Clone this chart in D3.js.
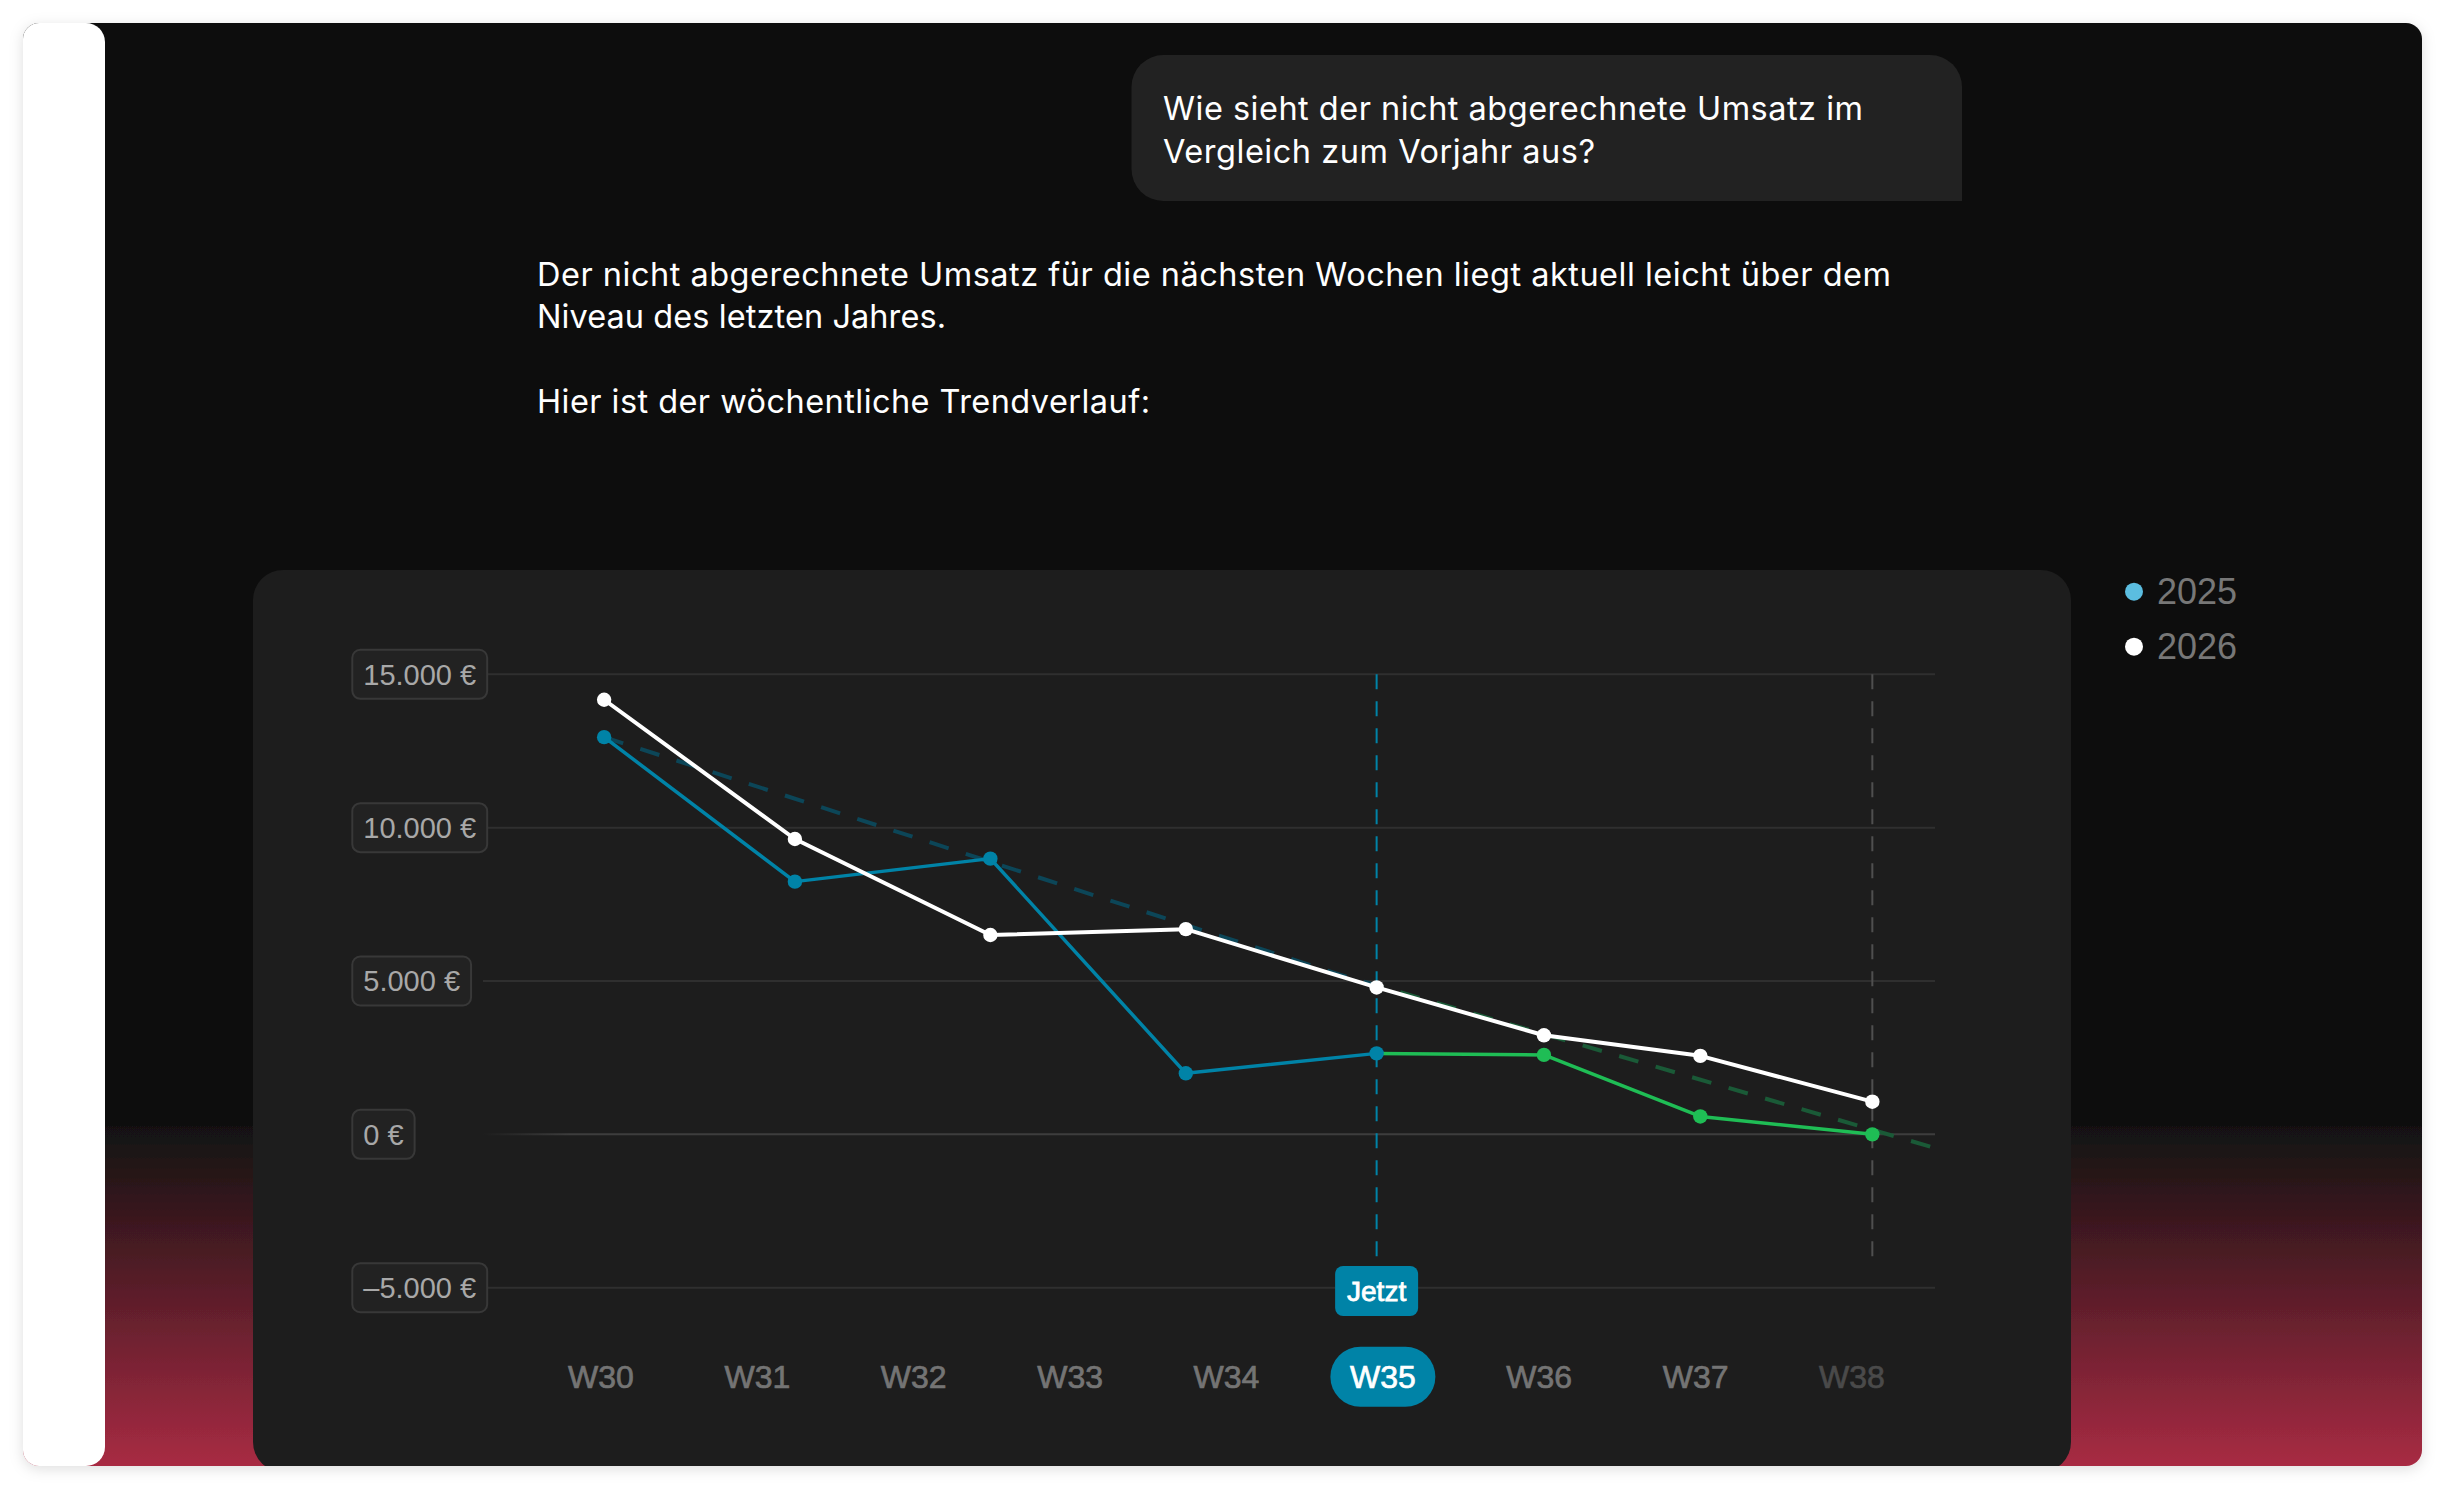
<!DOCTYPE html>
<html><head><meta charset="utf-8">
<script src="https://cdn.jsdelivr.net/npm/d3@7"></script>
<style>html,body{margin:0;padding:0;background:#ffffff;overflow:hidden}</style>
</head><body>
<svg id="c" width="2447" height="1490"></svg>
<script>
// ---------- DATA ----------
const weeks = ["W30","W31","W32","W33","W34","W35","W36","W37","W38"];
const weekNums = [30,31,32,33,34,35,36,37,38];
const currentWeek = "W35";
const fadedWeek = "W38";
// x position (in week units) of each plotted point
const pointWeeks = [30.02, 31.24, 32.49, 33.74, 34.96, 36.03, 37.03, 38.13];
const values2026 = [14170, 9630, 6500, 6690, 4790, 3230, 2560, 1065];
const values2025Actual = [12950, 8240, 8990, 1990, 2640];          // points 0..4
const values2025Forecast = [2640, 2590, 584, 0];                     // points 4..7
const trendWeeks = [30.02, 34.73, 38.5];
const trendValues = [12950, 5200, -400];
const yTicks = [15000, 10000, 5000, 0, -5000];
const legendLabels = ["2025", "2026"];
const legendColors = ["#5bbde0", "#ffffff"];
const questionLines = ["Wie sieht der nicht abgerechnete Umsatz im", "Vergleich zum Vorjahr aus?"];
const answerLines = ["Der nicht abgerechnete Umsatz für die nächsten Wochen liegt aktuell leicht über dem", "Niveau des letzten Jahres.", "", "Hier ist der wöchentliche Trendverlauf:"];
const nowLabel = "Jetzt";

// ---------- SETUP ----------
const svg = d3.select("#c");
const defs = svg.append("defs");
const BLUE = "#0083a7", GREEN = "#1fbd55";

const sh = defs.append("filter").attr("id","shadow").attr("x","-3%").attr("y","-3%").attr("width","106%").attr("height","106%");
sh.append("feDropShadow").attr("dx",0).attr("dy",3).attr("stdDeviation",7).attr("flood-color","#000").attr("flood-opacity",0.13);

const bg = defs.append("linearGradient").attr("id","bgGrad").attr("gradientUnits","userSpaceOnUse")
  .attr("x1",0).attr("y1",1125).attr("x2",0).attr("y2",1466);
bg.append("stop").attr("offset",0).attr("stop-color","#111111");
bg.append("stop").attr("offset",1).attr("stop-color","#a82b43");

const zg = defs.append("linearGradient").attr("id","zeroGrad").attr("gradientUnits","userSpaceOnUse")
  .attr("x1",483).attr("y1",0).attr("x2",570).attr("y2",0);
zg.append("stop").attr("offset",0).attr("stop-color","#3d3d3d").attr("stop-opacity",0);
zg.append("stop").attr("offset",1).attr("stop-color","#3d3d3d").attr("stop-opacity",1);

const frame = {x:23, y:23, w:2399, h:1443};
defs.append("clipPath").attr("id","frameClip").append("rect")
  .attr("x",frame.x).attr("y",frame.y).attr("width",frame.w).attr("height",frame.h).attr("rx",16);

svg.append("rect").attr("x",frame.x).attr("y",frame.y).attr("width",frame.w).attr("height",frame.h)
  .attr("rx",16).attr("fill","url(#bgGrad)").attr("filter","url(#shadow)");

const inner = svg.append("g").attr("clip-path","url(#frameClip)");
// white side panel with rounded right corners
(function(){
  const x0=frame.x-5, x1=105, y0=frame.y, y1=frame.y+frame.h, r=19;
  const p = d3.path();
  p.moveTo(x0,y0); p.lineTo(x1-r,y0); p.arcTo(x1,y0,x1,y0+r,r); p.lineTo(x1,y1-r);
  p.arcTo(x1,y1,x1-r,y1,r); p.lineTo(x0,y1); p.closePath();
  inner.append("path").attr("d",p.toString()).attr("fill","#ffffff");
})();

// question bubble (bottom-right corner square)
(function(){
  const x0=1131.5, x1=1962, y0=55, y1=201, r=32;
  const p = d3.path();
  p.moveTo(x0+r,y0); p.lineTo(x1-r,y0); p.arcTo(x1,y0,x1,y0+r,r); p.lineTo(x1,y1);
  p.lineTo(x0+r,y1); p.arcTo(x0,y1,x0,y1-r,r); p.lineTo(x0,y0+r); p.arcTo(x0,y0,x0+r,y0,r); p.closePath();
  inner.append("path").attr("d",p.toString()).attr("fill","#222222");
})();

const textFont = "Inter, 'Noto Sans', sans-serif";
const qWidths = [700, 432];
questionLines.forEach((t,i)=>{
  inner.append("text").attr("x",1163).attr("y",120 + i*43.3).text(t)
    .attr("font-family",textFont).attr("font-size",32.5).attr("fill","#ffffff")
    .attr("textLength",qWidths[i]).attr("lengthAdjust","spacing");
});
const aWidths = [1354, 409, 0, 613];
answerLines.forEach((t,i)=>{
  if(!t) return;
  inner.append("text").attr("x",537).attr("y",285.7 + i*42.4).text(t)
    .attr("font-family",textFont).attr("font-size",32.5).attr("fill","#ffffff")
    .attr("textLength",aWidths[i]).attr("lengthAdjust","spacing");
});

// chart card
inner.append("rect").attr("x",253).attr("y",570).attr("width",1818).attr("height",902)
  .attr("rx",30).attr("fill","#1d1d1d");

// ---------- SCALES ----------
const x = d3.scaleLinear().domain([weekNums[0], weekNums[weekNums.length-1]]).range([601,1852]);
const y = d3.scaleLinear().domain([-5000,15000]).range([1287.7,674.3]);
const gridX0 = 483, gridX1 = 1935;

const plot = inner.append("g");
// gridlines
plot.selectAll("line.grid").data(yTicks).join("line").attr("class","grid")
  .attr("x1",gridX0).attr("x2",gridX1).attr("y1",d=>y(d)).attr("y2",d=>y(d))
  .attr("stroke",d=> d===0 ? "url(#zeroGrad)" : "#2f2f2f").attr("stroke-width",2);

// vertical markers: "now" and end of forecast
const nowIdx = 4, endIdx = pointWeeks.length-1;
const nowX = x(pointWeeks[nowIdx]), endX = x(pointWeeks[endIdx]);
plot.append("line").attr("x1",nowX).attr("x2",nowX).attr("y1",y(15000)).attr("y2",1266)
  .attr("stroke",BLUE).attr("stroke-width",2).attr("stroke-dasharray","15 12");
plot.append("line").attr("x1",endX).attr("x2",endX).attr("y1",y(15000)).attr("y2",1265)
  .attr("stroke","#4f4f4f").attr("stroke-width",2).attr("stroke-dasharray","15 12");

// trend line (split color at "now")
defs.append("clipPath").attr("id","leftClip").append("rect").attr("x",0).attr("y",0).attr("width",nowX).attr("height",1490);
defs.append("clipPath").attr("id","rightClip").append("rect").attr("x",nowX).attr("y",0).attr("width",2447-nowX).attr("height",1490);
const trendData = trendWeeks.map((w,i)=>[w,trendValues[i]]);
const trendLine = d3.line().x(d=>x(d[0])).y(d=>y(d[1]));
plot.append("path").attr("d",trendLine(trendData)).attr("fill","none").attr("stroke","#0c4658")
  .attr("stroke-width",4).attr("stroke-dasharray","20 18").attr("clip-path","url(#leftClip)");
plot.append("path").attr("d",trendLine(trendData)).attr("fill","none").attr("stroke","#1a5a37")
  .attr("stroke-width",4).attr("stroke-dasharray","20 18").attr("clip-path","url(#rightClip)");

const line = d3.line().x(d=>x(d[0])).y(d=>y(d[1]));
const actual25 = values2025Actual.map((v,i)=>[pointWeeks[i],v]);
const fc25 = values2025Forecast.map((v,i)=>[pointWeeks[i+nowIdx],v]);
const s26 = values2026.map((v,i)=>[pointWeeks[i],v]);

plot.append("path").attr("d",line(actual25)).attr("fill","none").attr("stroke",BLUE).attr("stroke-width",3.5).attr("stroke-linejoin","round");
plot.append("path").attr("d",line(fc25)).attr("fill","none").attr("stroke",GREEN).attr("stroke-width",3.5).attr("stroke-linejoin","round");
plot.append("path").attr("d",line(s26)).attr("fill","none").attr("stroke","#ffffff").attr("stroke-width",4).attr("stroke-linejoin","round");

plot.selectAll("circle.fc").data(fc25.slice(1)).join("circle").attr("class","fc")
  .attr("cx",d=>x(d[0])).attr("cy",d=>y(d[1])).attr("r",7.2).attr("fill",GREEN);
plot.selectAll("circle.ac").data(actual25).join("circle").attr("class","ac")
  .attr("cx",d=>x(d[0])).attr("cy",d=>y(d[1])).attr("r",7.2).attr("fill",BLUE);
plot.selectAll("circle.s26").data(s26).join("circle").attr("class","s26")
  .attr("cx",d=>x(d[0])).attr("cy",d=>y(d[1])).attr("r",7.2).attr("fill","#ffffff");

// y tick boxes
const de = d3.formatLocale({decimal:",", thousands:".", grouping:[3], currency:["",""], minus:"\u2013"});
const fmt = v => de.format(",.0f")(v) + " €";
const labelFont = "'Liberation Sans', Arial, Helvetica, sans-serif";
yTicks.forEach(v=>{
  const g = plot.append("g");
  const r = g.append("rect");
  const t = g.append("text").attr("x",352.3+11).attr("y",y(v)+10.3).text(fmt(v))
    .attr("font-family",labelFont).attr("font-size",29).attr("fill","#a8a8a8");
  const w = t.node().getComputedTextLength();
  r.attr("x",352.3).attr("y",y(v)-24.5).attr("width",w+22).attr("height",49).attr("rx",8)
    .attr("fill","#222222").attr("stroke","#383838").attr("stroke-width",2);
});

// "Jetzt" tag
plot.append("rect").attr("x",nowX-41.5).attr("y",1266).attr("width",83).attr("height",50).attr("rx",8).attr("fill",BLUE);
plot.append("text").attr("x",nowX).attr("y",1300.5).attr("text-anchor","middle").text(nowLabel)
  .attr("font-family",labelFont).attr("font-size",28).attr("fill","#ffffff")
  .attr("stroke","#ffffff").attr("stroke-width",0.8);

// x labels
const labY = 1388;
const curX = x(weekNums[weeks.indexOf(currentWeek)]);
plot.append("rect").attr("x",curX-52.5).attr("y",1346.7).attr("width",105).attr("height",60).attr("rx",30).attr("fill",BLUE);
plot.selectAll("text.wk").data(weeks).join("text").attr("class","wk")
  .attr("x",(d,i)=>x(weekNums[i])).attr("y",labY).attr("text-anchor","middle").text(d=>d)
  .attr("font-family",labelFont).attr("font-size",32)
  .attr("fill",d=> d===currentWeek ? "#ffffff" : (d===fadedWeek ? "#4a4a4a" : "#747474"))
  .attr("stroke",d=> d===currentWeek ? "#ffffff" : (d===fadedWeek ? "#4a4a4a" : "#747474"))
  .attr("stroke-width",0.7);

// legend
legendLabels.forEach((l,i)=>{
  inner.append("circle").attr("cx",2134).attr("cy",591.7+i*55).attr("r",9).attr("fill",legendColors[i]);
  inner.append("text").attr("x",2157).attr("y",604.3+i*55).text(l)
    .attr("font-family",labelFont).attr("font-size",36).attr("fill","#777777");
});
</script>
</body></html>
